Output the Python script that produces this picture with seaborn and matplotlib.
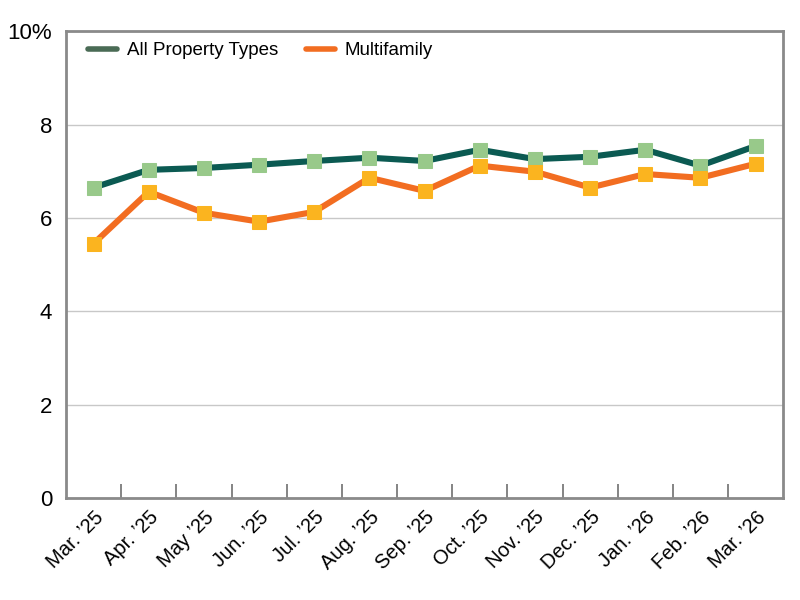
import pandas as pd
import matplotlib.pyplot as plt
import seaborn as sns
from matplotlib.lines import Line2D

months = ["Mar. \u201925", "Apr. \u201925", "May \u201925", "Jun. \u201925", "Jul. \u201925",
          "Aug. \u201925", "Sep. \u201925", "Oct. \u201925", "Nov. \u201925", "Dec. \u201925",
          "Jan. \u201926", "Feb. \u201926", "Mar. \u201926"]
all_types = [6.65, 7.03, 7.07, 7.14, 7.22, 7.29, 7.22, 7.46, 7.26, 7.31, 7.46, 7.12, 7.54]
multifamily = [5.45, 6.56, 6.11, 5.92, 6.13, 6.86, 6.58, 7.12, 6.99, 6.65, 6.94, 6.86, 7.16]
y_ticks = [0, 2, 4, 6, 8, 10]
y_labels = ["0", "2", "4", "6", "8", "10%"]

df = pd.DataFrame({"month": months, "pos": range(len(months)),
                   "All Property Types": all_types, "Multifamily": multifamily})

sns.set_style("white")
plt.rcParams['font.family'] = ['Liberation Sans', 'DejaVu Sans']
plt.rcParams['text.color'] = 'black'
plt.rcParams['xtick.color'] = 'black'
plt.rcParams['ytick.color'] = 'black'

fig = plt.figure(figsize=(8, 6), dpi=100)
ax = fig.add_axes([0.0825, 0.17, 0.8965, 0.778])

series = [("All Property Types", "#0b5a52", "#98c98a", "#4a6b55"),
          ("Multifamily", "#f26d21", "#fbb41f", "#f26d21")]
for name, line_c, mark_c, leg_c in series:
    sns.lineplot(data=df, x="pos", y=name, ax=ax, color=line_c, linewidth=4.4,
                 marker="s", markersize=10, markerfacecolor=mark_c,
                 markeredgecolor=mark_c, legend=False, zorder=3)

# legend with plain line handles
handles = [Line2D([0], [0], color=c, lw=4) for _, _, _, c in series]
ax.legend(handles, [s[0] for s in series], loc="upper left", ncol=2, frameon=False,
          fontsize=13.5, handlelength=1.55, handletextpad=0.5, columnspacing=1.5,
          bbox_to_anchor=(0.005, 1.017), borderaxespad=0.6)

ax.set_xlim(-0.5, len(months) - 0.5)
ax.set_ylim(0, 10)
ax.set_yticks(y_ticks)
ax.set_yticklabels(y_labels)
ax.tick_params(axis="y", length=0, pad=10, labelsize=16)
ax.yaxis.grid(True, color="#c8c8c8", linewidth=1)
ax.set_axisbelow(True)

# tick marks at category boundaries, labels at centres
ax.set_xticks([i + 0.5 for i in range(len(months) - 1)])
ax.set_xticklabels([])
ax.tick_params(axis="x", which="major", bottom=True, direction="in", length=10,
               color="#707070", width=1.2)
ax.set_xticks(range(len(months)), minor=True)
ax.set_xticklabels(months, minor=True, rotation=45, ha="right", rotation_mode="anchor")
ax.tick_params(axis="x", which="minor", bottom=True, length=0, pad=7, labelsize=14.5)
ax.set_xlabel("")
ax.set_ylabel("")

for s in ax.spines.values():
    s.set_color("#8a8a8a")
    s.set_linewidth(2)

fig.savefig("out.png", dpi=100)
